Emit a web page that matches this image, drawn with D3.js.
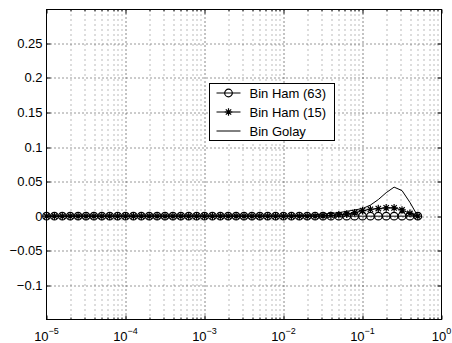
<!DOCTYPE html>
<html>
<head>
<meta charset="utf-8">
<script src="https://cdn.jsdelivr.net/npm/d3@7"></script>
<style>
  body { margin: 0; background: #fff; }
  text { font-family: "Liberation Sans", Arial, sans-serif; fill: #000; }
</style>
</head>
<body>
<div id="chart"></div>
<script>
// x positions (log10 of x), one per sample
const logX = [
  -5.0, -4.9, -4.8, -4.7, -4.6, -4.5, -4.4, -4.3, -4.2, -4.1,
  -4.0, -3.9, -3.8, -3.7, -3.6, -3.5, -3.4, -3.3, -3.2, -3.1,
  -3.0, -2.9, -2.8, -2.7, -2.6, -2.5, -2.4, -2.3, -2.2, -2.1,
  -2.0, -1.9, -1.8, -1.7, -1.6, -1.5, -1.4, -1.3, -1.2, -1.1,
  -1.0, -0.9, -0.8, -0.7, -0.6, -0.5, -0.4, -0.3
];

const ham63 = [
  0, 0, 0, 0, 0, 0, 0, 0, 0, 0,
  0, 0, 0, 0, 0, 0, 0, 0, 0, 0,
  0, 0, 0, 0, 0, 0, 0, 0, 0, 0,
  0, 0, 0, 0, 0, 0, 0, 0, 0, 0,
  0, 0, 0, 0, 0, 0, 0, 0
];

const ham15 = [
  0, 0, 0, 0, 0, 0, 0, 0, 0, 0,
  0, 0, 0, 0, 0, 0, 0, 0, 0, 0,
  0, 0, 0, 0, 0, 0, 0, 0, 0, 0,
  0, 0, 0, 0, 0, 0.0005, 0.001, 0.002, 0.003, 0.005,
  0.008, 0.010, 0.011, 0.012, 0.012, 0.009, 0.004, 0
];

const golay = [
  0, 0, 0, 0, 0, 0, 0, 0, 0, 0,
  0, 0, 0, 0, 0, 0, 0, 0, 0, 0,
  0, 0, 0, 0, 0, 0, 0, 0, 0, 0,
  0, 0.0005, 0.001, 0.001, 0.002, 0.003, 0.004, 0.005, 0.007, 0.009,
  0.011, 0.016, 0.024, 0.034, 0.042, 0.037, 0.020, 0
];

const yTicks = [-0.1, -0.05, 0, 0.05, 0.1, 0.15, 0.2, 0.25];
const yTickLabels = ["\u22120.1", "\u22120.05", "0", "0.05", "0.1", "0.15", "0.2", "0.25"];
const xDecades = [-5, -4, -3, -2, -1, 0];
const legendNames = ["Bin Ham (63)", "Bin Ham (15)", "Bin Golay"];

const margin = { top: 9.5, right: 10.5, bottom: 23.5, left: 46.5 };
const width = 452 - margin.left - margin.right;
const height = 343 - margin.top - margin.bottom;

const svg = d3.select('#chart')
  .append('svg')
    .attr('width', 452)
    .attr('height', 343)
  .append('g')
    .attr('transform', `translate(${margin.left},${margin.top})`);

const x = d3.scaleLog()
    .domain([1e-5, 1])
    .range([0, width]);

const y = d3.scaleLinear()
    .domain([-0.1495, 0.299])
    .range([height, 0]);

// minor positions 2..9 in every decade
const minors = [];
xDecades.slice(0, -1).forEach(e => {
  for (let m = 2; m <= 9; m++) minors.push(m * Math.pow(10, e));
});
const majors = xDecades.map(e => Math.pow(10, e));

// grid
const grid = svg.append('g').attr('fill', 'none');
grid.selectAll('.gminor')
  .data(minors)
  .join('line')
    .attr('x1', d => Math.round(x(d)) + 0.5)
    .attr('x2', d => Math.round(x(d)) + 0.5)
    .attr('y1', 0).attr('y2', height)
    .attr('stroke', '#777')
    .attr('stroke-dasharray', '1,4');
grid.selectAll('.gmajor')
  .data(majors.slice(1, -1))
  .join('line')
    .attr('x1', d => Math.round(x(d)) + 0.5)
    .attr('x2', d => Math.round(x(d)) + 0.5)
    .attr('y1', 0).attr('y2', height)
    .attr('stroke', '#111')
    .attr('stroke-dasharray', '1,3');
grid.selectAll('.gy')
  .data(yTicks)
  .join('line')
    .attr('x1', 0).attr('x2', width)
    .attr('y1', d => Math.round(y(d)) + 0.5)
    .attr('y2', d => Math.round(y(d)) + 0.5)
    .attr('stroke', '#333')
    .attr('stroke-dasharray', '1,3');

// box
svg.append('rect')
    .attr('x', 0).attr('y', 0)
    .attr('width', width).attr('height', height)
    .attr('fill', 'none')
    .attr('stroke', '#000');

// ticks (inside, on all four sides)
const ticks = svg.append('g').attr('stroke', '#000');
yTicks.forEach(v => {
  const yy = Math.round(y(v)) + 0.5;
  ticks.append('line').attr('x1', 0).attr('x2', 4).attr('y1', yy).attr('y2', yy);
  ticks.append('line').attr('x1', width - 4).attr('x2', width).attr('y1', yy).attr('y2', yy);
});
majors.forEach(v => {
  const xx = Math.round(x(v)) + 0.5;
  ticks.append('line').attr('x1', xx).attr('x2', xx).attr('y1', height).attr('y2', height - 4);
  ticks.append('line').attr('x1', xx).attr('x2', xx).attr('y1', 0).attr('y2', 4);
});
minors.forEach(v => {
  const xx = Math.round(x(v)) + 0.5;
  ticks.append('line').attr('x1', xx).attr('x2', xx).attr('y1', height).attr('y2', height - 2);
  ticks.append('line').attr('x1', xx).attr('x2', xx).attr('y1', 0).attr('y2', 2);
});

// y tick labels
svg.append('g')
  .selectAll('text')
  .data(yTicks)
  .join('text')
    .attr('x', -4)
    .attr('y', d => y(d))
    .attr('dy', '0.35em')
    .attr('text-anchor', 'end')
    .style('font-size', '13px')
    .text((d, i) => yTickLabels[i]);

// x tick labels 10^n
const xl = svg.append('g')
  .selectAll('text')
  .data(xDecades)
  .join('text')
    .attr('x', d => x(Math.pow(10, d)))
    .attr('y', height + 21)
    .attr('text-anchor', 'middle')
    .style('font-size', '13px');
xl.append('tspan').text('10');
xl.append('tspan')
    .attr('dy', -7)
    .style('font-size', '9px')
    .text(d => d === 0 ? '0' : '\u2212' + Math.abs(d));

// series
const pts = s => logX.map((e, i) => [Math.pow(10, e), s[i]]);
const line = d3.line()
    .x(d => x(d[0]))
    .y(d => y(d[1]));

const starPath = (r) => {
  const p = d3.path();
  const q = r * 0.7071;
  p.moveTo(-r, 0); p.lineTo(r, 0);
  p.moveTo(0, -r); p.lineTo(0, r);
  p.moveTo(-q, -q); p.lineTo(q, q);
  p.moveTo(-q, q); p.lineTo(q, -q);
  return p.toString();
};

const plot = svg.append('g').attr('fill', 'none').attr('stroke', '#000');

plot.append('path')
    .attr('d', line(pts(golay)));

plot.append('path')
    .attr('d', line(pts(ham15)));
plot.append('g')
    .attr('stroke-width', 1.2)
  .selectAll('path')
  .data(pts(ham15))
  .join('path')
    .attr('transform', d => `translate(${x(d[0])},${y(d[1])})`)
    .attr('d', starPath(3.8));

plot.append('path')
    .attr('d', line(pts(ham63)));
plot.append('g')
    .attr('stroke-width', 1.2)
  .selectAll('circle')
  .data(pts(ham63))
  .join('circle')
    .attr('cx', d => x(d[0]))
    .attr('cy', d => y(d[1]))
    .attr('r', 3.8);

// legend
const lx = 209.5 - margin.left, ly = 83.5 - margin.top;
const legend = svg.append('g').attr('transform', `translate(${lx},${ly})`);
legend.append('rect')
    .attr('width', 125).attr('height', 57)
    .attr('fill', '#fff').attr('stroke', '#000');
const rowY = [9.5, 28.5, 47.5];
legendNames.forEach((name, i) => {
  const g = legend.append('g').attr('transform', `translate(0,${rowY[i]})`);
  g.append('line').attr('x1', 7).attr('x2', 31).attr('y1', 0).attr('y2', 0).attr('stroke', '#000');
  if (i === 0) g.append('circle').attr('cx', 19).attr('cy', 0).attr('r', 3.8).attr('fill', 'none').attr('stroke', '#000').attr('stroke-width', 1.2);
  if (i === 1) g.append('path').attr('transform', 'translate(19,0)').attr('d', starPath(3.8)).attr('stroke', '#000').attr('stroke-width', 1.2);
  g.append('text')
      .attr('x', 40).attr('y', 0).attr('dy', '0.36em')
      .style('font-size', '13px')
      .text(name);
});
</script>
</body>
</html>
